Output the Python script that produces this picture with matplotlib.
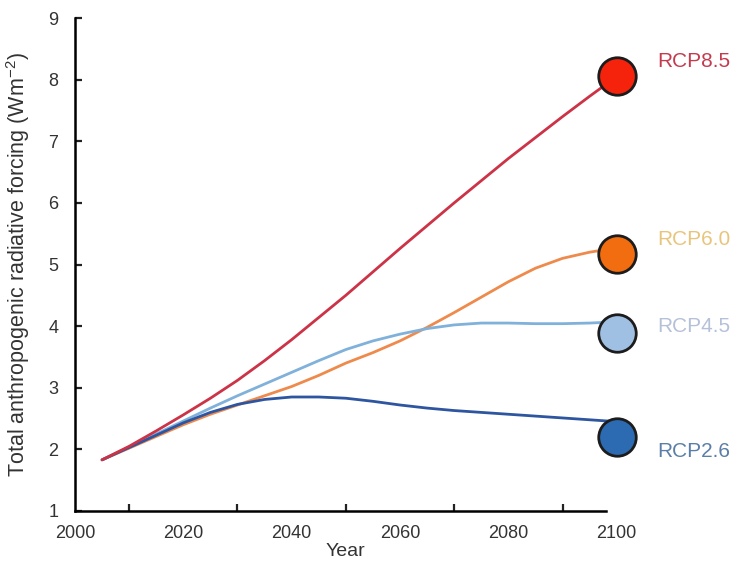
import matplotlib
matplotlib.use("Agg")
import matplotlib.pyplot as plt

plt.rcParams['font.family'] = ['Liberation Sans', 'DejaVu Sans']
plt.rcParams['mathtext.default'] = 'regular'

# values
years = [2005, 2010, 2015, 2020, 2025, 2030, 2035, 2040, 2045, 2050,
         2055, 2060, 2065, 2070, 2075, 2080, 2085, 2090, 2095, 2100]
rcp85 = [1.83, 2.05, 2.30, 2.56, 2.83, 3.12, 3.44, 3.78, 4.14, 4.50,
         4.88, 5.26, 5.63, 6.00, 6.36, 6.72, 7.06, 7.40, 7.73, 8.05]
rcp60 = [1.83, 2.02, 2.21, 2.40, 2.57, 2.72, 2.87, 3.02, 3.20, 3.40,
         3.57, 3.76, 3.98, 4.22, 4.47, 4.72, 4.94, 5.10, 5.20, 5.27]
rcp45 = [1.83, 2.04, 2.25, 2.46, 2.67, 2.87, 3.06, 3.25, 3.44, 3.62,
         3.76, 3.87, 3.96, 4.02, 4.05, 4.05, 4.04, 4.04, 4.05, 4.07]
rcp26 = [1.83, 2.03, 2.23, 2.43, 2.60, 2.73, 2.81, 2.85, 2.85, 2.83,
         2.78, 2.72, 2.67, 2.63, 2.60, 2.57, 2.54, 2.51, 2.48, 2.45]

names = ['RCP8.5', 'RCP6.0', 'RCP4.5', 'RCP2.6']
end_year = 2100
end_values = [8.06, 5.17, 3.89, 2.20]
label_y = [8.29, 5.40, 3.99, 1.96]

line_colors = ['#cc3347', '#ee8a4c', '#80b1da', '#2d55a0']
dot_colors = ['#f5220c', '#f26c10', '#9fc0e3', '#2c6bb2']
text_colors = ['#c43a4e', '#e8c57c', '#b5c1d8', '#5b7ea8']

fig = plt.figure(figsize=(7.38, 5.64), dpi=100)
ax = fig.add_axes([0.1016, 0.094, 0.734, 0.874])

series = [rcp85, rcp60, rcp45, rcp26]
# draw lower ones first so red sits on top, like the reference
for i in [1, 2, 3, 0]:
    ax.plot(years, series[i], color=line_colors[i], lw=2.0, solid_capstyle='round', zorder=2)

for i in range(4):
    ax.scatter([end_year], [end_values[i]], s=27**2, color=dot_colors[i],
               edgecolor='#1c1c1c', linewidth=2.0, zorder=5, clip_on=False)
    ax.text(2107.5, label_y[i], names[i], color=text_colors[i], fontsize=15,
            va='center', ha='left', clip_on=False)

ax.set_xlim(2000, 2100)
ax.set_ylim(1, 9)
ax.set_xticks(range(2010, 2100, 10), minor=True)
ax.set_xticks(range(2000, 2101, 20))
ax.set_yticks(range(1, 10))

ax.spines['top'].set_visible(False)
ax.spines['right'].set_visible(False)
ax.spines['left'].set_linewidth(1.8)
ax.spines['bottom'].set_linewidth(1.8)
ax.spines['bottom'].set_bounds(2000, 2098)

ax.tick_params(axis='both', which='both', direction='in', length=5, width=1.6,
               labelsize=13, labelcolor='#333333', color='#222222')
ax.tick_params(axis='x', which='major', length=0, pad=10)
ax.tick_params(axis='y', pad=12)

ax.set_xlabel('Year', fontsize=14, color='#333333', labelpad=1)
ax.set_ylabel('Total anthropogenic radiative forcing (Wm$^{-2}$)', fontsize=15.5,
              color='#333333')
ax.yaxis.set_label_coords(-0.079, 0.5)

fig.savefig('out.png', dpi=100)
